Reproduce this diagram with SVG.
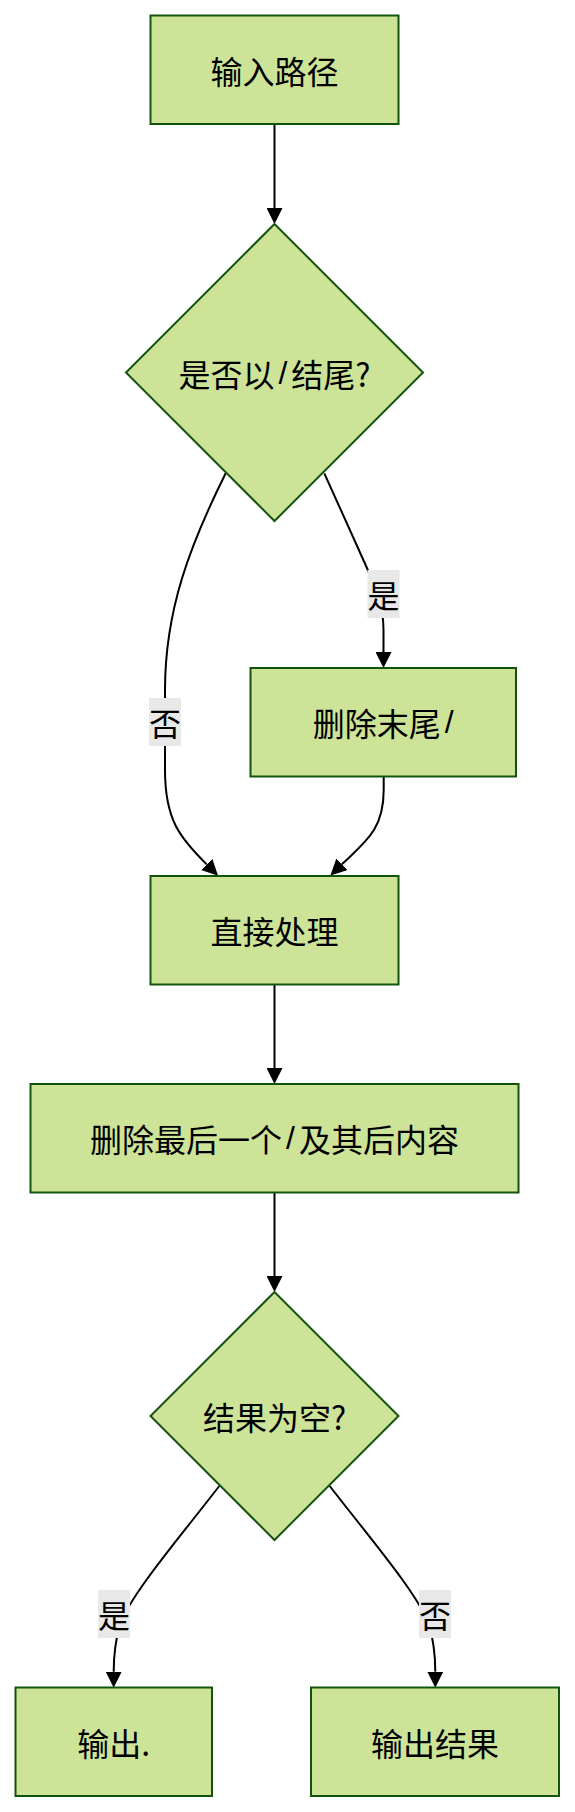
<svg xmlns="http://www.w3.org/2000/svg" width="575" height="1812" viewBox="0 0 575 1812">
<defs>
<style>
.node text,.lbl text{font-family:"Noto Sans CJK SC","Noto Sans",sans-serif;font-size:32px;fill:#000;text-anchor:middle;dominant-baseline:central}
.node rect,.node polygon{fill:#cde498;stroke:#13540c;stroke-width:2}
.edge{fill:none;stroke:#000;stroke-width:2}
.lbl rect{fill:#e8e8e8}
.sl{font-family:"Liberation Sans",sans-serif}
</style>
<marker id="arr" viewBox="0 0 10 10" refX="0" refY="5" markerUnits="userSpaceOnUse" markerWidth="16" markerHeight="16" orient="auto">
<path d="M0,0 L10,5 L0,10 z" fill="#000"/>
</marker>
</defs>
<rect width="575" height="1812" fill="#fff"/>
<g id="edges">
<path class="edge" d="M274.5,124 L274.5,208" marker-end="url(#arr)"/>
<path class="edge" d="M324.3,473.3 L358,548 C 372,580 383.5,600 383.5,630 L383.5,652" marker-end="url(#arr)"/>
<path class="edge" d="M225.7,473.3 C 190,545 165,610 165,690 L165,770 C 165,820 180,838 206.7,864.4" marker-end="url(#arr)"/>
<path class="edge" d="M383.7,776.5 L383.7,790 C 383.7,830 365,842 341.9,864.3" marker-end="url(#arr)"/>
<path class="edge" d="M274.5,984.5 L274.5,1068" marker-end="url(#arr)"/>
<path class="edge" d="M274.5,1192.5 L274.5,1276" marker-end="url(#arr)"/>
<path class="edge" d="M219.3,1486 C 180,1537 130,1595 120,1625 C 114,1645 113.7,1660 113.7,1671.7" marker-end="url(#arr)"/>
<path class="edge" d="M329.7,1486 C 369,1537 419,1595 429,1625 C 435,1645 435.3,1660 435.3,1671.7" marker-end="url(#arr)"/>
<g class="lbl"><rect x="367.5" y="570" width="32" height="48"/><text x="383.5" y="594">是</text></g>
<g class="lbl"><rect x="149" y="698" width="32" height="48"/><text x="165" y="722">否</text></g>
<g class="lbl"><rect x="98" y="1590" width="32" height="48"/><text x="114" y="1614">是</text></g>
<g class="lbl"><rect x="419" y="1590" width="32" height="48"/><text x="435" y="1614">否</text></g>
</g>
<g id="A" class="node"><rect x="150.5" y="15.5" width="248" height="108.5"/><text x="274.5" y="70">输入路径</text></g>
<g id="B" class="node"><polygon points="274.5,224 423,372.5 274.5,521 126,372.5"/><text x="274.5" y="372.5">是否以<tspan class="sl" dx="4">/</tspan><tspan dx="4">结尾?</tspan></text></g>
<g id="C" class="node"><rect x="250.5" y="668" width="265.5" height="108.5"/><text x="383.3" y="722">删除末尾<tspan class="sl" dx="4">/</tspan></text></g>
<g id="D" class="node"><rect x="150.5" y="876" width="248" height="108.5"/><text x="274.5" y="930">直接处理</text></g>
<g id="E" class="node"><rect x="30.5" y="1084" width="488" height="108.5"/><text x="274.5" y="1138">删除最后一个<tspan class="sl" dx="4">/</tspan><tspan dx="4">及其后内容</tspan></text></g>
<g id="F" class="node"><polygon points="274.5,1292 398.5,1416 274.5,1540 150.5,1416"/><text x="274.5" y="1416">结果为空?</text></g>
<g id="G" class="node"><rect x="15.5" y="1687.5" width="196.5" height="108.5"/><text x="113.7" y="1742">输出.</text></g>
<g id="H" class="node"><rect x="311" y="1687.5" width="248" height="108.5"/><text x="435" y="1742">输出结果</text></g>
</svg>
